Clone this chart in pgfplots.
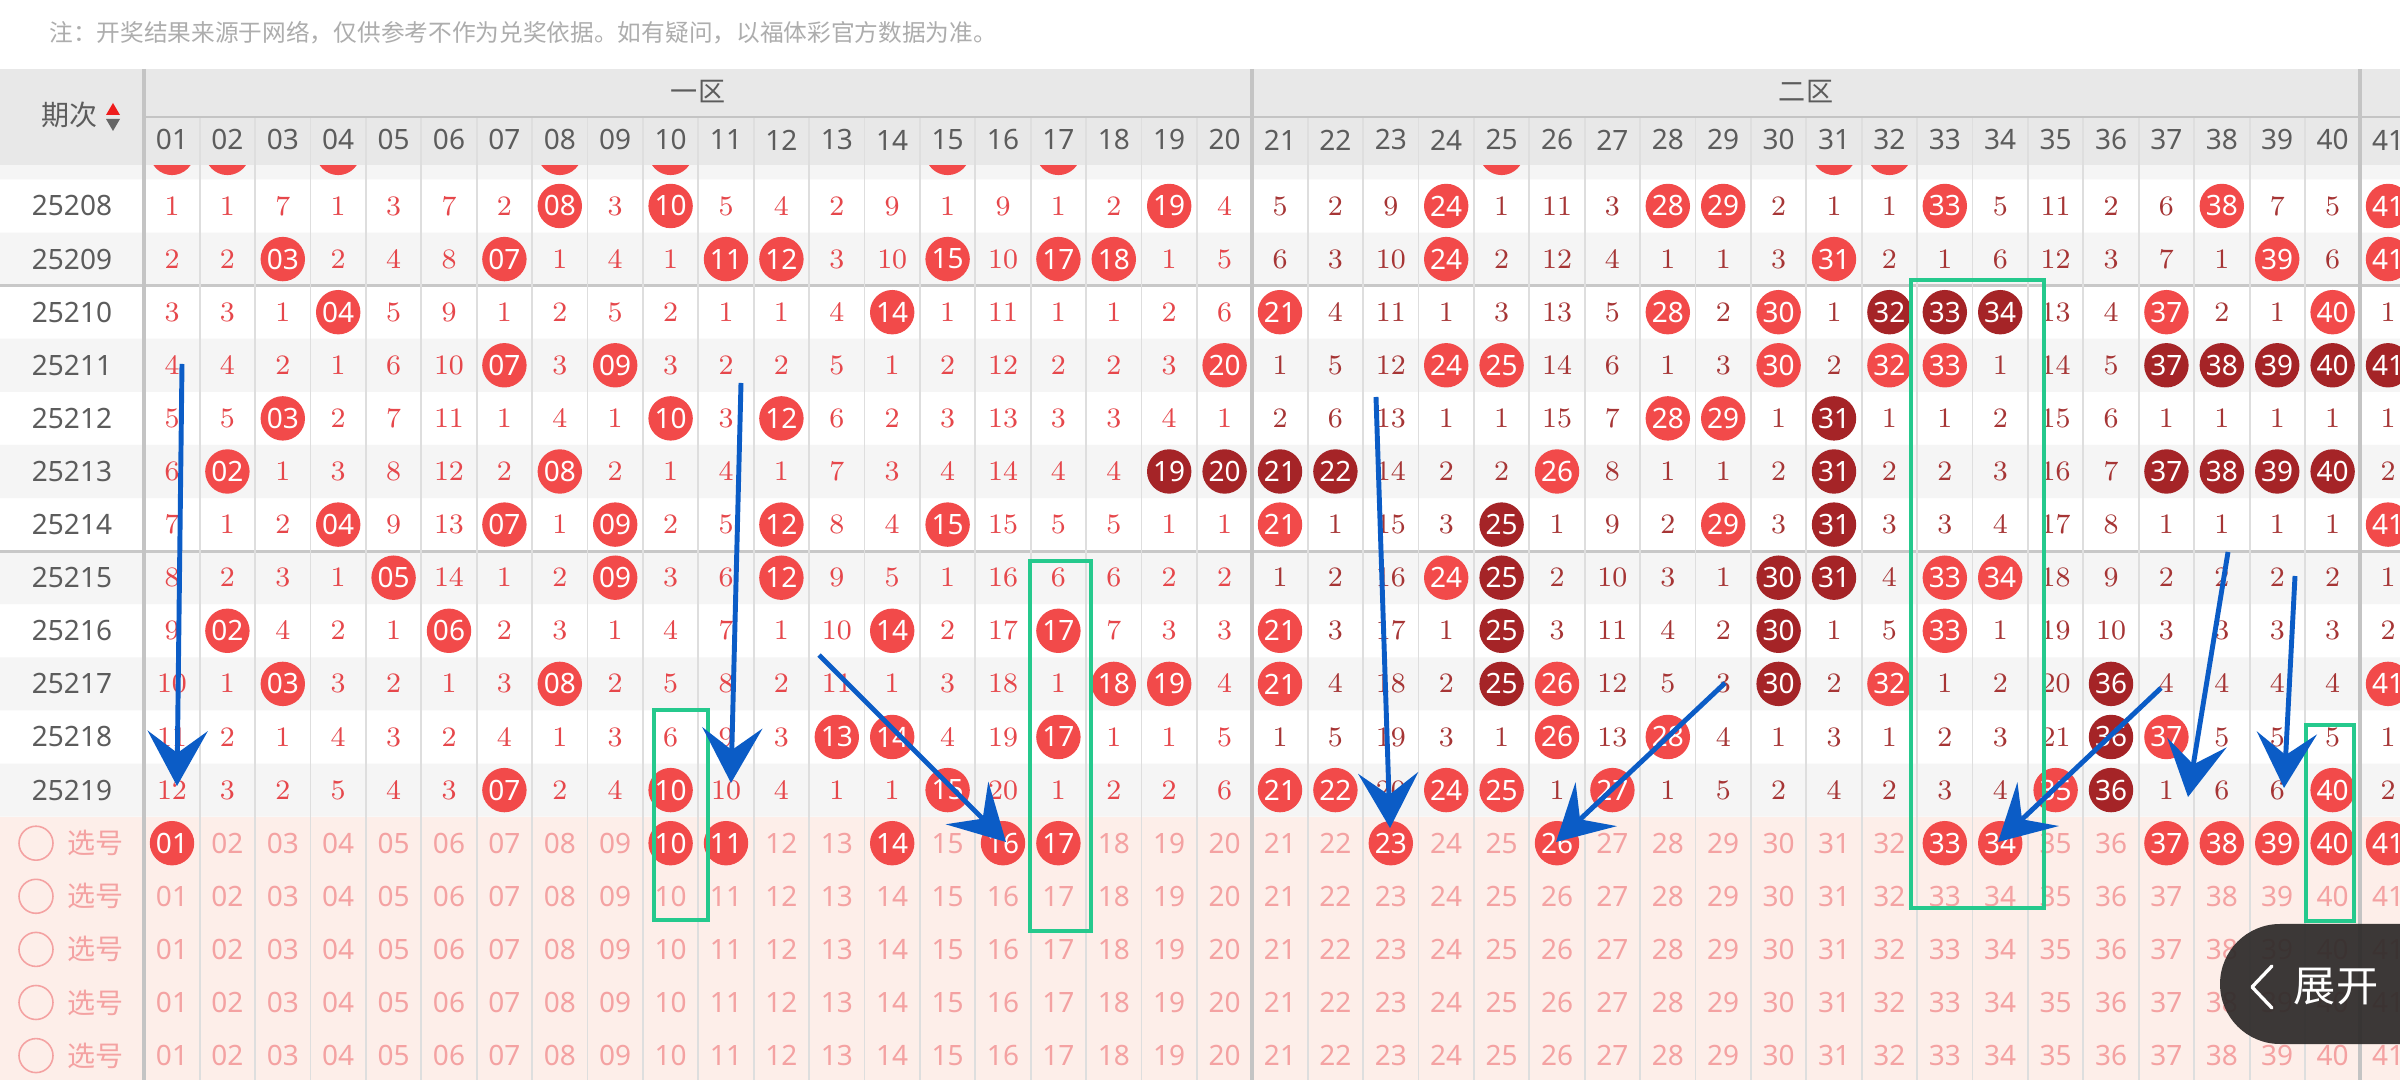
\documentclass[border=0pt]{standalone}
\usepackage{fontspec}
\setmainfont{Noto Sans}
\newfontfamily\cjk{Noto Sans CJK SC}
\usepackage{pgfplots}
\usepackage{pgfplotstable}
\pgfplotsset{compat=1.18}
\usetikzlibrary{arrows.meta}

\definecolor{hitred}{HTML}{F24A4A}
\definecolor{hitdark}{HTML}{A52427}
\definecolor{missA}{HTML}{E6474B}
\definecolor{missB}{HTML}{A63535}
\definecolor{selpink}{HTML}{F4A2A2}
\definecolor{selbg}{HTML}{FDEEE9}
\definecolor{hdrbg}{HTML}{E8E8E8}
\definecolor{hdrtxt}{HTML}{5C5C5C}
\definecolor{rowgray}{HTML}{F5F5F5}
\definecolor{gridc}{HTML}{DEDEDE}
\definecolor{sepc}{HTML}{C4C4C4}
\definecolor{arrowblue}{HTML}{0B5CC6}
\definecolor{boxgreen}{HTML}{25C98D}
\definecolor{notegray}{HTML}{ADADAD}
\definecolor{btn}{HTML}{2E2B2A}
\definecolor{sortred}{HTML}{EE1C1C}
\definecolor{sortgray}{HTML}{666666}

\newcommand\cellfont{\fontsize{7.97}{9}\selectfont}

% miss counts per draw (rows 1..12 = 25208..25219); 0 = hit (red ball), -1 = hit (dark ball)
\pgfplotstableread{
r c1 c2 c3 c4 c5 c6 c7 c8 c9 c10 c11 c12 c13 c14 c15 c16 c17 c18 c19 c20 c21 c22 c23 c24 c25 c26 c27 c28 c29 c30 c31 c32 c33 c34 c35 c36 c37 c38 c39 c40 c41
1  1 1 7 1 3 7 2 0 3 0  5 4 2 9 1 9 1 2 0 4     5 2 9 0 1 11 3 0 0 2    1 1 0 5 11 2 6 0 7 5  0
2  2 2 0 2 4 8 0 1 4 1  0 0 3 10 0 10 0 0 1 5  6 3 10 0 2 12 4 1 1 3   0 2 1 6 12 3 7 1 0 6  0
3  3 3 1 0 5 9 1 2 5 2  1 1 4 0 1 11 1 1 2 6   0 4 11 1 3 13 5 0 2 0   1 -1 -1 -1 13 4 0 2 1 0  1
4  4 4 2 1 6 10 0 3 0 3 2 2 5 1 2 12 2 2 3 0   1 5 12 0 0 14 6 1 3 0   2 0 0 1 14 5 -1 -1 -1 -1  -1
5  5 5 0 2 7 11 1 4 1 0 3 0 6 2 3 13 3 3 4 1   2 6 13 1 1 15 7 0 0 1   -1 1 1 2 15 6 1 1 1 1  1
6  6 0 1 3 8 12 2 0 2 1 4 1 7 3 4 14 4 4 -1 -1 -1 -1 14 2 2 0 8 1 1 2 -1 2 2 3 16 7 -1 -1 -1 -1  2
7  7 1 2 0 9 13 0 1 0 2 5 0 8 4 0 15 5 5 1 1   0 1 15 3 -1 1 9 2 0 3  -1 3 3 4 17 8 1 1 1 1  0
8  8 2 3 1 0 14 1 2 0 3 6 0 9 5 1 16 6 6 2 2   1 2 16 0 -1 2 10 3 1 -1 -1 4 0 0 18 9 2 2 2 2  1
9  9 0 4 2 1 0 2 3 1 4  7 1 10 0 2 17 0 7 3 3  0 3 17 1 -1 3 11 4 2 -1  1 5 0 1 19 10 3 3 3 3  2
10 10 1 0 3 2 1 3 0 2 5 8 2 11 1 3 18 1 0 0 4  0 4 18 2 -1 0 12 5 3 -1  2 0 1 2 20 -1 4 4 4 4  0
11 11 2 1 4 3 2 4 1 3 6 9 3 0 0 4 19 0 1 1 5   1 5 19 3 1 0 13 0 4 1   3 1 2 3 21 -1 0 5 5 5  1
12 12 3 2 5 4 3 0 2 4 0 10 4 1 1 0 20 1 2 2 6  0 0 20 0 0 1 0 1 5 2    4 2 3 4 0 -1 1 6 6 0  2
}\grid

\pgfplotstableread{
n lab
1 01
2 02
3 03
4 04
5 05
6 06
7 07
8 08
9 09
10 10
11 11
12 12
13 13
14 14
15 15
16 16
17 17
18 18
19 19
20 20
21 21
22 22
23 23
24 24
25 25
26 26
27 27
28 28
29 29
30 30
31 31
32 32
33 33
34 34
35 35
36 36
37 37
38 38
39 39
40 40
41 41
}\nums

\pgfplotstableread{
r lab
1 25208
2 25209
3 25210
4 25211
5 25212
6 25213
7 25214
8 25215
9 25216
10 25217
11 25218
12 25219
}\rowlabs

\pgfplotstableread{
r k
13 1
14 2
15 3
16 4
17 5
}\selrows

\pgfplotstableread{
n lab
1 01
2 02
4 04
8 08
10 10
15 15
17 17
25 25
31 31
32 32
}\prevhits

\pgfplotstableread{
n lab
1 01
10 10
11 11
14 14
16 16
17 17
23 23
26 26
33 33
34 34
37 37
38 38
39 39
40 40
41 41
}\selhits

\begin{document}
\begin{tikzpicture}
\begin{axis}[
  width=24cm, height=10.8cm, scale only axis,
  xmin=0, xmax=2400, ymin=0, ymax=1080, y dir=reverse,
  hide axis, clip=true, clip marker paths=true, set layers=standard,
  every node near coord/.append style={anchor=center, inner sep=0pt, font=\cellfont},
]
% ---------- backgrounds ----------
\begin{pgfonlayer}{axis background}
\fill[white] (axis cs:0,0) rectangle (axis cs:2400,1080);
\fill[rowgray] \foreach \a/\b in {126.35/179.45, 232.55/285.65, 338.75/391.85, 444.95/498.05, 551.15/604.25, 657.35/710.45, 763.55/816.65} {(axis cs:0,\a) rectangle (axis cs:2400,\b)};
\fill[selbg] (axis cs:0,816.65) rectangle (axis cs:2400,1080);
\end{pgfonlayer}

% previous draw (mostly hidden under the header)
\addplot[on layer=axis background, only marks, mark=*, mark size=0.215cm, color=hitred, mark options={draw=hitred, fill=hitred}]
  table[x expr=116.6+55.4*\thisrow{n}, y expr=152.9] {\prevhits};

% ---------- header + grid ----------
\begin{pgfonlayer}{axis grid}
\fill[hdrbg] (axis cs:0,69) rectangle (axis cs:2400,165);
\draw[gridc!90!black, line width=0.85pt] (axis cs:0,285.65) -- (axis cs:2400,285.65) (axis cs:0,551.15) -- (axis cs:2400,551.15);
\draw[gridc, line width=0.55pt] \foreach \x in {199.7,255.1,310.5,365.9,421.3,476.7,532.1,587.5,642.9,698.3,753.7,809.1,864.5,919.9,975.3,1030.7,1086.1,1141.5,1196.9,1307.7,1363.1,1418.5,1473.9,1529.3,1584.7,1640.1,1695.5,1750.9,1806.3,1861.7,1917.1,1972.5,2027.9,2083.3,2138.7,2194.1,2249.5,2304.9} {(axis cs:\x,117) -- (axis cs:\x,1080)};
\draw[sepc, line width=1.1pt] \foreach \x in {144.3,1252.3,2360.3} {(axis cs:\x,69) -- (axis cs:\x,1080)};
\draw[sepc, line width=0.7pt] (axis cs:144.3,117) -- (axis cs:2400,117);
\end{pgfonlayer}

\begin{pgfonlayer}{axis ticks}
\node[text=hdrtxt] at (axis cs:70,115) {\cjk\fontsize{7.97}{9}\selectfont 期次};
\fill[sortred] (axis cs:106,115) -- (axis cs:120,115) -- (axis cs:113,103) -- cycle;
\fill[sortgray] (axis cs:106,119) -- (axis cs:120,119) -- (axis cs:113,131) -- cycle;
\node[text=hdrtxt] at (axis cs:698,92) {\cjk\fontsize{7.7}{9}\selectfont 一区};
\node[text=hdrtxt] at (axis cs:1806,92) {\cjk\fontsize{7.7}{9}\selectfont 二区};
\node[text=notegray, anchor=west] at (axis cs:37,33) {\cjk\fontsize{6.74}{8}\selectfont 注：开奖结果来源于网络，仅供参考不作为兑奖依据。如有疑问，以福体彩官方数据为准。};
\end{pgfonlayer}

\addplot[on layer=axis ticks, only marks, mark=none, point meta=explicit symbolic, nodes near coords,
  every node near coord/.append style={text=hdrtxt}]
  table[x expr=116.6+55.4*\thisrow{n}, y expr=140, meta=lab] {\nums};

% ---------- draw labels ----------
\addplot[only marks, mark=none, point meta=explicit symbolic, nodes near coords,
  every node near coord/.append style={text=hdrtxt}]
  table[x expr=72, y expr=152.9+53.1*\thisrow{r}, meta=lab] {\rowlabs};

% ---------- miss counts ----------
\pgfplotsinvokeforeach{1,...,20}{
\addplot[only marks, mark=none, point meta=\thisrow{c#1}, nodes near coords,
  every node near coord/.append style={text=missA}]
  table[x expr=116.6+55.4*#1, y expr={\thisrow{c#1}>0 ? 152.9+53.1*\thisrow{r} : nan}] {\grid};
}
\pgfplotsinvokeforeach{21,...,41}{
\addplot[only marks, mark=none, point meta=\thisrow{c#1}, nodes near coords,
  every node near coord/.append style={text=missB}]
  table[x expr=116.6+55.4*#1, y expr={\thisrow{c#1}>0 ? 152.9+53.1*\thisrow{r} : nan}] {\grid};
}
% ---------- hits ----------
\pgfplotsinvokeforeach{1,...,41}{
\addplot[only marks, mark=*, mark size=0.215cm, color=hitred, mark options={draw=hitred, fill=hitred},
  nodes near coords={\ifnum#1<10 0\fi#1}, every node near coord/.append style={text=white}]
  table[x expr=116.6+55.4*#1, y expr={\thisrow{c#1}==0 ? 152.9+53.1*\thisrow{r} : nan}] {\grid};
\addplot[only marks, mark=*, mark size=0.215cm, color=hitdark, mark options={draw=hitdark, fill=hitdark},
  nodes near coords={\ifnum#1<10 0\fi#1}, every node near coord/.append style={text=white}]
  table[x expr=116.6+55.4*#1, y expr={\thisrow{c#1}<0 ? 152.9+53.1*\thisrow{r} : nan}] {\grid};
}

% ---------- selection rows ----------
\pgfplotsinvokeforeach{13,...,17}{
\addplot[only marks, mark=none, point meta=explicit symbolic, nodes near coords,
  every node near coord/.append style={text=selpink}]
  table[x expr=116.6+55.4*\thisrow{n}, y expr=152.9+53.1*#1, meta=lab] {\nums};
}
\addplot[only marks, mark=*, mark size=0.215cm, color=hitred, mark options={draw=hitred, fill=hitred},
  point meta=explicit symbolic, nodes near coords, every node near coord/.append style={text=white}]
  table[x expr=116.6+55.4*\thisrow{n}, y expr=152.9+53.1*13, meta=lab] {\selhits};
\addplot[only marks, mark=o, mark size=0.17cm, color=selpink, mark options={draw=selpink, line width=0.45pt}]
  table[x expr=36, y expr=152.9+53.1*\thisrow{r}] {\selrows};
\addplot[only marks, mark=none, nodes near coords={\cjk 选号},
  every node near coord/.append style={text=selpink}]
  table[x expr=96, y expr=152.9+53.1*\thisrow{r}] {\selrows};

% ---------- annotations ----------
\begin{pgfonlayer}{axis descriptions}
\draw[boxgreen, line width=1.15pt] (axis cs:654,710) rectangle (axis cs:708,920);
\draw[boxgreen, line width=1.15pt] (axis cs:1030,561) rectangle (axis cs:1091,931);
\draw[boxgreen, line width=1.15pt] (axis cs:1911,280) rectangle (axis cs:2044,908);
\draw[boxgreen, line width=1.15pt] (axis cs:2306,725) rectangle (axis cs:2354,921);
\end{pgfonlayer}

\pgfplotsset{myarrow/.style={on layer=axis descriptions, arrowblue, line width=1.4pt, -{Stealth[length=0.55cm, width=0.6cm, inset=0.22cm]}}}
\addplot[myarrow] coordinates {(182,364) (177,786)};
\addplot[myarrow] coordinates {(741,383) (731,783)};
\addplot[myarrow] coordinates {(819,655) (1006,842)};
\addplot[myarrow] coordinates {(1376,397) (1390,828)};
\addplot[myarrow] coordinates {(1725,683) (1556,842)};
\addplot[myarrow] coordinates {(2161,688) (1998,842)};
\addplot[myarrow] coordinates {(2228,552) (2188,797)};
\addplot[myarrow] coordinates {(2295,576) (2284,788)};

% ---------- expand button ----------
\begin{pgfonlayer}{axis foreground}
\fill[btn, opacity=0.93, rounded corners=0.6cm] (axis cs:2220,924) rectangle (axis cs:2480,1044);
\draw[white, line width=0.95pt, line cap=round, line join=round] (axis cs:2272,966) -- (axis cs:2252,987) -- (axis cs:2272,1008);
\node[text=white] at (axis cs:2336,987) {\cjk\fontsize{12}{14}\selectfont 展开};
\end{pgfonlayer}
\end{axis}
\pgfresetboundingbox
\path (current axis.south west) rectangle (current axis.north east);
\end{tikzpicture}
\end{document}
